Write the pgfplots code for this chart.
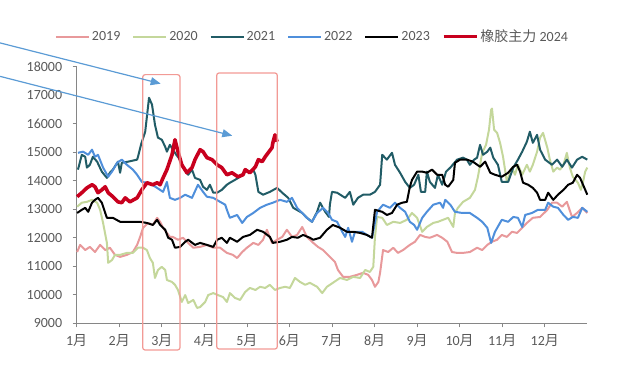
\documentclass[border=0pt]{standalone}
\usepackage{fontspec}
\setmainfont{Carlito}
\newfontfamily\cjk{Noto Sans CJK SC}
\usepackage{pgfplots}
\pgfplotsset{compat=1.18}
\usetikzlibrary{arrows.meta}
\definecolor{c2019}{HTML}{E8999B}
\definecolor{c2020}{HTML}{C4D79B}
\definecolor{c2021}{HTML}{215C66}
\definecolor{c2022}{HTML}{4F8FDB}
\definecolor{c2023}{HTML}{000000}
\definecolor{c2024}{HTML}{C8001E}
\definecolor{axgray}{HTML}{868686}
\definecolor{txtgray}{HTML}{595959}
\definecolor{rectc}{HTML}{F29A95}
\definecolor{arrowc}{HTML}{5B9BD5}
\newcommand\yue{{\cjk 月}}
\begin{document}
\begin{tikzpicture}
\useasboundingbox (0,0) rectangle (625pt,384pt);
\begin{axis}[
  at={(76.7pt,60.7pt)}, anchor=south west,
  scale only axis, width=510.6pt, height=256.6pt,
  xmin=0, xmax=12, ymin=9000, ymax=18000,
  axis x line=bottom, axis y line=left,
  axis line style={-, draw=axgray, line width=0.8pt},
  xtick={0,1,2,3,4,5,6,7,8,9,10,11},
  xticklabels={1\yue,2\yue,3\yue,4\yue,5\yue,6\yue,7\yue,8\yue,9\yue,10\yue,11\yue,12\yue},
  ytick={9000,10000,11000,12000,13000,14000,15000,16000,17000,18000},
  scaled y ticks=false,
  tick align=outside, major tick length=4pt,
  tick style={draw=axgray, line width=0.8pt},
  /pgf/number format/assume math mode=true,
  /pgf/number format/1000 sep={},
  tick label style={font=\fontsize{14}{16}\selectfont, text=txtgray},
  yticklabel style={xshift=-7pt},
  xticklabel style={yshift=-4pt},
  clip=false,
  legend columns=6,
  legend image code/.code={\draw[#1] (0pt,0pt) -- (33pt,0pt);},
  legend style={at={(0.4618,1.117)}, anchor=center, draw=none, fill=none,
    font=\fontsize{14}{16}\selectfont, text=txtgray, inner sep=0pt,
    nodes={inner sep=2pt},
    /tikz/every even column/.append style={column sep=10pt}},
]
% 2019
\addplot[c2019, line width=2pt, line join=round] coordinates {
(0.01,11500)(0.08,11750)(0.20,11570)(0.31,11680)(0.43,11500)(0.55,11750)(0.67,11570)(0.78,11650)(0.90,11400)(1.02,11330)
(1.18,11400)(1.32,11500)(1.42,11750)(1.49,12030)(1.56,12350)(1.68,12520)(1.79,12450)(1.89,12700)(1.96,12560)(2.03,12350)
(2.12,12170)(2.19,12030)(2.26,12030)(2.38,11930)(2.50,12000)(2.62,11820)(2.74,11650)(2.90,11680)(3.06,11750)(3.21,11650)
(3.37,11650)(3.53,11470)(3.67,11400)(3.77,11290)(3.89,11500)(4.00,11650)(4.15,11820)(4.27,11750)(4.38,11930)(4.47,12280)
(4.59,11820)(4.71,11930)(4.83,12030)(4.94,12280)(5.06,12030)(5.18,12100)(5.30,12380)(5.41,12030)(5.56,11820)(5.67,11680)
(5.79,11570)(5.95,11330)(6.07,11150)(6.14,10870)(6.26,10630)(6.42,10630)(6.59,10700)(6.73,10770)(6.85,10700)(6.94,10520)
(7.01,10280)(7.09,10450)(7.13,10770)(7.20,11570)(7.32,11500)(7.44,11650)(7.55,11470)(7.67,11570)(7.83,11750)(7.95,11860)
(8.07,12100)(8.19,12030)(8.30,12000)(8.47,12100)(8.59,12000)(8.71,11860)(8.82,11500)(8.94,11470)(9.08,11470)(9.24,11500)
(9.41,11650)(9.53,11570)(9.65,11750)(9.76,11860)(9.88,11930)(9.99,12100)(10.11,12030)(10.23,12210)(10.35,12170)(10.47,12350)
(10.58,12520)(10.72,12700)(10.89,12730)(11.06,12980)(11.17,13230)(11.29,13230)(11.41,13090)(11.52,13260)(11.64,12730)(11.76,12870)
(11.88,13050)(12.00,12870)
};
\addlegendentry{2019}
% 2020
\addplot[c2020, line width=2pt, line join=round] coordinates {
(0.01,13090)(0.12,13230)(0.24,13260)(0.36,13330)(0.48,13230)(0.55,12980)(0.62,12520)(0.71,11820)(0.74,11120)(0.83,11220)
(0.90,11400)(1.02,11400)(1.18,11470)(1.32,11470)(1.44,11650)(1.56,11650)(1.65,11570)(1.72,11290)(1.79,11120)(1.84,10590)
(1.91,10870)(2.00,10980)(2.08,10870)(2.12,10520)(2.24,10450)(2.31,10350)(2.38,10170)(2.47,9750)(2.55,9990)(2.62,9710)
(2.74,9820)(2.83,9540)(2.90,9570)(3.02,9750)(3.09,9990)(3.21,10060)(3.32,9990)(3.44,9920)(3.53,9750)(3.60,10060)
(3.72,9890)(3.84,9820)(3.96,10100)(4.07,10240)(4.20,10170)(4.31,10280)(4.43,10240)(4.54,10350)(4.66,10170)(4.78,10240)
(4.90,10280)(5.01,10240)(5.13,10590)(5.25,10450)(5.37,10350)(5.48,10420)(5.65,10280)(5.77,10060)(5.88,10280)(6.02,10420)
(6.19,10590)(6.35,10520)(6.50,10630)(6.66,10590)(6.78,10870)(6.89,10800)(6.97,10980)(7.01,12030)(7.06,12730)(7.18,12700)
(7.29,12450)(7.44,12560)(7.60,12520)(7.76,12630)(7.88,12870)(8.00,12700)(8.12,12210)(8.23,12380)(8.38,12520)(8.49,12560)
(8.61,12630)(8.73,12700)(8.85,12380)(8.89,12870)(8.96,13050)(9.08,13260)(9.24,13400)(9.36,13680)(9.43,14140)(9.53,14980)
(9.62,15260)(9.69,15790)(9.74,16490)(9.76,16530)(9.81,15790)(9.88,15680)(9.95,15330)(10.02,14840)(10.11,13960)(10.23,14460)
(10.30,14210)(10.37,14560)(10.47,14210)(10.58,14560)(10.65,14320)(10.72,14560)(10.82,15020)(10.89,15510)(10.96,15680)(11.06,15160)
(11.12,14740)(11.20,14320)(11.29,14460)(11.36,14390)(11.44,14560)(11.52,14980)(11.59,14460)(11.66,14140)(11.78,13930)(11.85,13680)
(11.90,13960)(11.95,14320)(12.00,14460)
};
\addlegendentry{2020}
% 2021
\addplot[c2021, line width=2pt, line join=round] coordinates {
(0.03,14390)(0.12,14910)(0.20,14840)(0.24,14460)(0.31,14560)(0.38,14840)(0.48,14670)(0.59,14320)(0.71,14100)(0.78,14280)
(0.85,14390)(0.97,14670)(1.02,14280)(1.06,14630)(1.21,14670)(1.42,14740)(1.44,14840)(1.51,15260)(1.61,15720)(1.70,16910)
(1.77,16670)(1.84,15960)(1.91,15510)(2.00,15440)(2.08,15190)(2.12,15020)(2.19,15260)(2.26,15090)(2.34,14910)(2.43,14740)
(2.50,14460)(2.62,14210)(2.71,14390)(2.78,14100)(2.90,14030)(2.97,13790)(3.06,13680)(3.13,13860)(3.21,13580)(3.30,13580)
(3.41,13680)(3.53,13860)(3.60,13930)(3.72,14030)(3.84,14140)(3.96,14320)(4.07,14320)(4.15,14390)(4.20,14210)(4.27,13610)
(4.38,13510)(4.54,13610)(4.71,13750)(4.83,13580)(4.97,13400)(5.09,13050)(5.30,12870)(5.41,12700)(5.53,12560)(5.65,12910)
(5.72,13230)(5.84,12910)(5.93,12730)(5.95,13160)(6.00,13610)(6.12,13580)(6.31,13400)(6.42,13610)(6.50,13160)(6.61,13400)
(6.73,13510)(6.89,13510)(7.01,13610)(7.13,13860)(7.18,14910)(7.29,14740)(7.41,14980)(7.48,14560)(7.60,14280)(7.72,13960)
(7.83,13750)(7.93,13860)(8.03,14210)(8.09,13610)(8.19,13610)(8.23,14320)(8.30,13960)(8.42,13750)(8.49,14210)(8.59,13860)
(8.68,14320)(8.78,14460)(8.94,14740)(9.08,14810)(9.17,14740)(9.24,14560)(9.34,14740)(9.41,14810)(9.48,15260)(9.55,14910)
(9.65,15020)(9.72,15160)(9.79,14810)(9.90,14560)(9.99,13960)(10.14,13960)(10.26,14460)(10.37,14740)(10.47,15020)(10.58,15370)
(10.65,15720)(10.72,15330)(10.82,15610)(10.89,15090)(11.01,14740)(11.17,14560)(11.29,14740)(11.41,14490)(11.52,14740)(11.64,14460)
(11.76,14740)(11.88,14840)(12.00,14740)
};
\addlegendentry{2021}
% 2022
\addplot[c2022, line width=2pt, line join=round] coordinates {
(0.03,14980)(0.15,15020)(0.27,14910)(0.36,15090)(0.43,14840)(0.50,14910)(0.62,14460)(0.74,14140)(0.83,14320)(0.95,14630)
(1.06,14740)(1.18,14560)(1.32,14390)(1.42,14210)(1.53,13960)(1.65,13930)(1.77,13860)(1.89,13750)(2.03,13610)(2.12,13960)
(2.19,13400)(2.31,13330)(2.43,13400)(2.55,13510)(2.71,13400)(2.85,13860)(2.97,13610)(3.06,13440)(3.21,13400)(3.37,13260)
(3.49,13160)(3.53,12980)(3.60,12700)(3.77,12800)(3.89,12520)(4.00,12730)(4.15,12870)(4.31,13050)(4.47,13160)(4.61,13230)
(4.78,13330)(4.94,13260)(5.06,13400)(5.18,13050)(5.30,12870)(5.41,12700)(5.53,12560)(5.65,12870)(5.79,13050)(5.91,12870)
(6.00,12630)(6.12,12560)(6.24,12210)(6.31,12030)(6.38,12350)(6.47,11860)(6.54,12210)(6.71,12210)(6.82,12100)(6.94,12000)
(7.06,12910)(7.20,13160)(7.36,13050)(7.48,13230)(7.60,13050)(7.72,12910)(7.83,12560)(7.93,12450)(8.00,12280)(8.12,12700)
(8.23,12910)(8.38,13160)(8.54,13230)(8.61,13050)(8.66,13330)(8.78,13160)(8.89,12910)(9.06,12870)(9.24,12870)(9.41,12700)
(9.53,12560)(9.65,12350)(9.74,11820)(9.83,12210)(9.99,12630)(10.14,12560)(10.26,12730)(10.37,12700)(10.47,12380)(10.54,12800)
(10.70,12870)(10.84,12980)(11.01,12980)(11.08,13230)(11.20,13090)(11.31,13050)(11.44,12800)(11.55,12630)(11.66,12730)(11.78,12700)
(11.88,13050)(12.00,12910)
};
\addlegendentry{2022}
% 2023
\addplot[c2023, line width=2pt, line join=round] coordinates {
(0.01,12870)(0.12,12980)(0.20,13050)(0.27,12910)(0.36,13230)(0.43,13330)(0.50,13400)(0.59,13230)(0.67,12870)(0.71,12700)
(0.85,12700)(1.02,12560)(1.18,12560)(1.32,12560)(1.49,12560)(1.65,12520)(1.79,12450)(1.89,12630)(1.96,12450)(2.08,12280)
(2.15,12000)(2.24,11930)(2.31,11650)(2.43,11680)(2.55,11860)(2.62,11930)(2.78,11750)(2.90,11820)(3.06,11750)(3.21,11680)
(3.30,11930)(3.41,12000)(3.53,11820)(3.60,12000)(3.77,11860)(3.91,12030)(4.07,12100)(4.24,12280)(4.38,12210)(4.54,12030)
(4.61,11820)(4.78,11860)(4.94,11930)(5.06,12030)(5.20,12000)(5.32,12100)(5.48,12000)(5.56,11930)(5.72,12000)(5.88,12280)
(6.02,12450)(6.19,12350)(6.35,12210)(6.50,12210)(6.66,12170)(6.82,12100)(6.94,12000)(7.01,12980)(7.18,12910)(7.29,12800)
(7.41,12870)(7.53,13160)(7.65,13230)(7.76,13260)(7.83,13790)(7.88,14030)(8.00,14320)(8.12,14320)(8.23,14280)(8.35,14390)
(8.47,14210)(8.59,14210)(8.66,13860)(8.73,13790)(8.85,14030)(8.89,14630)(9.01,14740)(9.17,14740)(9.31,14670)(9.48,14490)
(9.60,14670)(9.72,14280)(9.83,14210)(9.99,14140)(10.14,14280)(10.26,14490)(10.35,14560)(10.42,14320)(10.49,13930)(10.61,13860)
(10.72,13750)(10.82,13580)(10.89,13330)(11.01,13330)(11.08,13580)(11.20,13330)(11.31,13510)(11.44,13680)(11.55,13860)(11.66,13930)
(11.76,14210)(11.83,14100)(11.90,13860)(12.00,13510)
};
\addlegendentry{2023}
% 2024
\addplot[c2024, line width=3.6pt, line join=round] coordinates {
(0.01,13440)(0.12,13580)(0.24,13750)(0.36,13860)(0.43,13790)(0.50,13580)(0.59,13680)(0.67,13790)(0.74,13580)(0.85,13440)
(0.97,13260)(1.06,13230)(1.14,13400)(1.25,13260)(1.42,13400)(1.53,13680)(1.65,13930)(1.79,13860)(1.89,13930)(1.96,13860)
(2.03,14100)(2.12,14390)(2.24,14910)(2.31,15440)(2.38,15020)(2.47,14560)(2.59,14280)(2.71,14460)(2.78,14740)(2.90,15090)
(2.97,15020)(3.06,14810)(3.18,14740)(3.30,14560)(3.41,14460)(3.53,14210)(3.65,14280)(3.79,14140)(3.91,14210)(3.96,14390)
(4.07,14280)(4.20,14490)(4.27,14740)(4.36,14670)(4.43,14840)(4.50,14980)(4.59,15160)(4.61,15330)(4.66,15610)(4.71,15370)
};
\addlegendentry{{\cjk 橡胶主力} 2024}
% annotations
\draw[rectc, line width=1.2pt, rounded corners=2.5pt] (axis cs:1.551,8062) rectangle (axis cs:2.428,17722);
\draw[rectc, line width=1.2pt, rounded corners=2.5pt] (axis cs:3.290,8097) rectangle (axis cs:4.715,17781);
\draw[arrowc, line width=1.2pt, -{Triangle[length=10pt,width=8pt]}] (axis cs:-1.803,18835) -- (axis cs:1.974,17405);
\draw[arrowc, line width=1.2pt, -{Triangle[length=10pt,width=8pt]}] (axis cs:-1.803,17662) -- (axis cs:3.657,15579);
\end{axis}
\end{tikzpicture}
\end{document}
